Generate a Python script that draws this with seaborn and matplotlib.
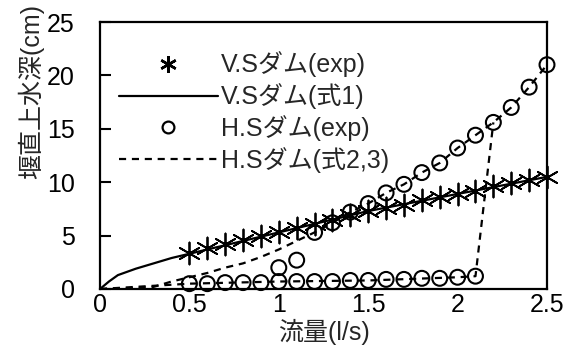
import matplotlib
matplotlib.use("Agg")
import matplotlib.pyplot as plt
import seaborn as sns
import pandas as pd
from matplotlib.lines import Line2D

# --- data ---
vs_exp_q = [0.5, 0.6, 0.7, 0.8, 0.9, 1.0, 1.1, 1.2, 1.3, 1.4, 1.5, 1.6, 1.7, 1.8, 1.9, 2.0, 2.1, 2.2, 2.3, 2.4, 2.5]
vs_exp_h = [3.4, 3.8, 4.2, 4.6, 5.0, 5.3, 5.7, 6.1, 6.5, 6.9, 7.3, 7.6, 7.9, 8.3, 8.6, 8.9, 9.2, 9.6, 9.9, 10.2, 10.5]

vs_eq_q = [0.0, 0.05, 0.1, 0.2, 0.3, 0.4, 0.5, 1.0, 1.5, 2.0, 2.5]
vs_eq_h = [0.0, 0.7, 1.3, 1.9, 2.4, 2.9, 3.3, 5.3, 7.3, 8.9, 10.5]

hs_exp_q = [0.5, 0.6, 0.7, 0.8, 0.9, 1.0, 1.1, 1.2, 1.3, 1.4, 1.5, 1.6, 1.7, 1.8, 1.9, 2.0, 2.1,
            1.0, 1.1,
            1.2, 1.3, 1.4, 1.5, 1.6, 1.7, 1.8, 1.9, 2.0, 2.1, 2.2, 2.3, 2.4, 2.5]
hs_exp_h = [0.5, 0.5, 0.6, 0.6, 0.6, 0.7, 0.7, 0.7, 0.7, 0.8, 0.8, 0.9, 0.9, 1.0, 1.0, 1.1, 1.2,
            2.0, 2.7,
            5.3, 6.2, 7.2, 8.0, 9.0, 9.8, 10.9, 11.8, 13.2, 14.4, 15.6, 17.0, 18.9, 21.0]

hs_eq_upper_q = [0.0, 0.2, 0.3, 0.4, 0.5, 0.6, 0.7, 0.8, 0.9, 1.0, 1.1, 1.2, 1.3, 1.4, 1.5, 1.6, 1.7, 1.8, 1.9, 2.0, 2.1, 2.2, 2.3, 2.4, 2.5]
hs_eq_upper_h = [0.0, 0.1, 0.2, 0.7, 1.1, 1.5, 2.0, 2.4, 3.0, 3.7, 4.5, 5.3, 6.2, 7.2, 8.0, 9.0, 9.8, 10.9, 11.8, 13.2, 14.4, 15.6, 17.0, 18.9, 21.0]

hs_eq_lower_q = [0.0, 0.5, 1.0, 1.5, 2.0, 2.1, 2.2]
hs_eq_lower_h = [0.0, 0.5, 0.7, 0.8, 1.1, 1.2, 15.6]

labels = ["V.Sダム(exp)", "V.Sダム(式1)", "H.Sダム(exp)", "H.Sダム(式2,3)"]
x_ticks = [0, 0.5, 1, 1.5, 2, 2.5]
x_tick_labels = ["0", "0.5", "1", "1.5", "2", "2.5"]
y_ticks = [0, 5, 10, 15, 20, 25]
x_label = "流量(l/s)"
y_label = "堰直上水深(cm)"

sns.set_theme(style="white")
plt.rcParams["font.family"] = ["Liberation Sans", "Noto Sans CJK JP", "DejaVu Sans"]

fig = plt.figure(figsize=(5.73, 3.48), dpi=100)
ax = fig.add_axes([100 / 573, 1 - 289 / 348, 447 / 573, 267 / 348])

df_vs_eq = pd.DataFrame({"q": vs_eq_q, "h": vs_eq_h})
df_hs_up = pd.DataFrame({"q": hs_eq_upper_q, "h": hs_eq_upper_h})
df_hs_lo = pd.DataFrame({"q": hs_eq_lower_q, "h": hs_eq_lower_h})
df_vs_exp = pd.DataFrame({"q": vs_exp_q, "h": vs_exp_h})
df_hs_exp = pd.DataFrame({"q": hs_exp_q, "h": hs_exp_h})

DASH = (3.2, 2.6)
sns.lineplot(data=df_vs_eq, x="q", y="h", ax=ax, color="black", lw=1.6, sort=False)
sns.lineplot(data=df_hs_up, x="q", y="h", ax=ax, color="black", lw=1.6, sort=False)
sns.lineplot(data=df_hs_lo, x="q", y="h", ax=ax, color="black", lw=1.6, sort=False)
ax.lines[1].set_dashes(DASH)
ax.lines[2].set_dashes(DASH)

sns.scatterplot(data=df_vs_exp, x="q", y="h", ax=ax, marker=(6, 2, 0), s=250,
                color="black", linewidth=1.3, edgecolor="black", clip_on=False, zorder=4)
sns.scatterplot(data=df_hs_exp, x="q", y="h", ax=ax, marker="o", s=115,
                facecolor="none", edgecolor="black", linewidth=1.5, clip_on=False, zorder=4)

handles = [
    Line2D([], [], ls="none", marker=(6, 2, 0), markersize=12, color="black", markeredgewidth=1.8),
    Line2D([], [], color="black", lw=1.6),
    Line2D([], [], ls="none", marker="o", markersize=8.5, markerfacecolor="none",
           markeredgecolor="black", markeredgewidth=1.6),
    Line2D([], [], color="black", lw=1.6, dashes=DASH),
]
ax.legend(handles, labels, loc="upper left", bbox_to_anchor=(0.042, 0.89), frameon=False,
          fontsize=18, handlelength=3.95, handletextpad=0.12, labelspacing=0.24,
          borderpad=0, borderaxespad=0)

ax.set_xlim(0, 2.5)
ax.set_ylim(0, 25)
ax.set_xticks(x_ticks)
ax.set_xticklabels(x_tick_labels)
ax.set_yticks(y_ticks)
ax.tick_params(axis="both", labelsize=18, colors="black")
ax.tick_params(axis="y", direction="in", length=8, width=1.5, left=True, pad=18)
ax.tick_params(axis="x", direction="in", length=0, pad=3)
ax.set_xlabel(x_label, fontsize=18, labelpad=1)
ax.set_ylabel(y_label, fontsize=18)
ax.yaxis.set_label_coords(-0.125, 0.74)
for s in ax.spines.values():
    s.set_color("black")
    s.set_linewidth(1.6)

fig.savefig("out.png", dpi=100)
